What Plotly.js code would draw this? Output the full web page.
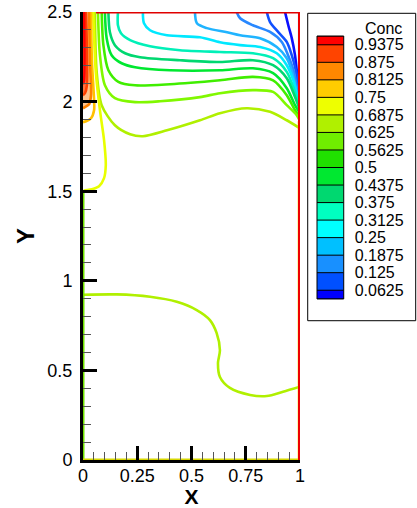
<!DOCTYPE html>
<html><head><meta charset="utf-8">
<script src="https://cdn.plot.ly/plotly-3.0.1.min.js"></script>
<style>html,body{margin:0;padding:0;background:#fff}#chart{width:417px;height:508px}</style>
</head><body><div id="chart"></div>
<script>
// ---- legend data ----
const levels = [0.0625,0.125,0.1875,0.25,0.3125,0.375,0.4375,0.5,0.5625,0.625,0.6875,0.75,0.8125,0.875,0.9375];
const levelLabels = ["0.0625","0.125","0.1875","0.25","0.3125","0.375","0.4375","0.5","0.5625","0.625","0.6875","0.75","0.8125","0.875","0.9375"];
const bandColors = ['#0000ff','#0050ff','#1890ff','#00c0ff','#00ffff','#00ffc0','#00d870','#00e830','#20e000','#70ee00','#b0f000','#eeff00','#ffcc00','#ff8800','#ff4400','#ff0000'];

// ---- contour lines (x, y) ----
const b1X = [0.931,0.946,0.962,0.977,0.986,0.994,1.0];
const b1Y = [2.5,2.426,2.354,2.259,2.164,2.052,1.991];
const b2X = [0.847,0.862,0.899,0.939,0.962,0.982,0.992,1.0];
const b2Y = [2.5,2.444,2.389,2.333,2.259,2.166,2.064,1.985];
const b3X = [0.708,0.724,0.783,0.862,0.916,0.945,0.972,0.989,1.0];
const b3Y = [2.5,2.465,2.426,2.389,2.333,2.259,2.166,2.052,1.980];
const b4X = [0.516,0.525,0.571,0.664,0.724,0.816,0.893,0.939,0.968,0.986,1.0];
const b4Y = [2.5,2.437,2.410,2.387,2.370,2.354,2.305,2.242,2.147,2.036,1.974];
const cyX = [0.276,0.281,0.309,0.387,0.539,0.631,0.724,0.816,0.893,0.939,0.972,0.989,1.0];
const cyY = [2.5,2.437,2.398,2.370,2.359,2.331,2.315,2.305,2.270,2.203,2.110,2.019,1.969];
const aqX = [0.161,0.161,0.175,0.217,0.309,0.447,0.631,0.783,0.876,0.939,0.977,1.0];
const aqY = [2.5,2.426,2.381,2.343,2.309,2.287,2.277,2.270,2.242,2.166,2.054,1.963];
const tgX = [0.117,0.124,0.147,0.194,0.263,0.447,0.631,0.783,0.876,0.939,0.977,1.0];
const tgY = [2.5,2.387,2.315,2.270,2.248,2.231,2.221,2.231,2.203,2.130,2.026,1.952];
const gX = [0.101,0.109,0.132,0.178,0.240,0.401,0.631,0.783,0.876,0.939,0.977,1.0];
const gY = [2.5,2.354,2.259,2.214,2.192,2.175,2.175,2.186,2.159,2.075,1.980,1.935];
const g2X = [0.086,0.094,0.117,0.163,0.240,0.401,0.631,0.783,0.876,0.939,0.977,1.0];
const g2Y = [2.5,2.315,2.175,2.110,2.091,2.097,2.119,2.138,2.119,2.036,1.952,1.913];
const ygX = [0.069,0.078,0.101,0.147,0.240,0.355,0.539,0.631,0.783,0.876,0.939,0.985,1.0];
const ygY = [2.5,2.259,2.091,2.019,1.997,2.002,2.025,2.047,2.064,2.054,1.980,1.924,1.891];
const lygX = [0.055,0.063,0.086,0.147,0.217,0.276,0.387,0.539,0.631,0.754,0.862,0.939,1.0];
const lygY = [2.5,2.166,1.980,1.868,1.818,1.807,1.840,1.896,1.935,1.963,1.943,1.896,1.851];
const yeX = [0.047,0.059,0.078,0.097,0.105,0.097,0.074,0.041,0.005,0];
const yeY = [2.5,2.164,1.952,1.785,1.645,1.573,1.528,1.511,1.503,1.500];
const goX = [0.037,0.041,0.051,0.051,0.037,0.014,0];
const goY = [2.5,2.231,2.008,1.952,1.907,1.890,1.885];
const orX = [0.028,0.032,0.037,0.028,0.009,0];
const orY = [2.5,2.231,2.036,1.985,1.969,1.963];
const orrX = [0.014,0.018,0.018,0.009,0];
const orrY = [2.5,2.287,2.091,2.047,2.036];
const rdX = [0.005,0.007,0.005,0];
const rdY = [2.5,2.231,2.119,2.097];
const lowX = [0,0.155,0.309,0.432,0.524,0.585,0.616,0.631,0.622,0.631,0.677,0.770,0.847,0.922,1.0];
const lowY = [0.922,0.924,0.911,0.883,0.837,0.781,0.708,0.613,0.541,0.463,0.402,0.363,0.357,0.381,0.409];

// boundary lines
const rightEdgeX = [1,1], rightEdgeY = [0,2.5];
const rightInnerX = [0.994,0.994], rightInnerY = [0,1.89];
const rightTopX = [0.995,0.995], rightTopY = [1.99,2.5];
const topEdgeX = [0.06,1], topEdgeY = [2.5,2.5];
const leftEdgeX = [0,0], leftEdgeY = [0,1.5];
const bottomEdgeX = [0,1], bottomEdgeY = [0,0];

const curves = [
  [b1X,b1Y,'#0a10ff'],[b2X,b2Y,'#1050ff'],[b3X,b3Y,'#2888ff'],[b4X,b4Y,'#20b4ff'],
  [cyX,cyY,'#00e8ff'],[aqX,aqY,'#00f0b8'],[tgX,tgY,'#00d870'],[gX,gY,'#00e830'],
  [g2X,g2Y,'#40ee00'],[ygX,ygY,'#80f800'],[lygX,lygY,'#b0f000'],[yeX,yeY,'#e8ff00'],
  [goX,goY,'#ffc000'],[orX,orY,'#ff8000'],[orrX,orrY,'#ff4000'],[rdX,rdY,'#ff0000'],
  [lowX,lowY,'#b0f000']
];
const edges = [
  [leftEdgeX,leftEdgeY,'#70e000',3],[bottomEdgeX,bottomEdgeY,'#d8d800',3],
  [rightInnerX,rightInnerY,'#e8e800',2],[rightTopX,rightTopY,'#20c8e8',2],
  [topEdgeX,topEdgeY,'#e00000',3],[rightEdgeX,rightEdgeY,'#ee0000',4]
];

const FONT = 'Liberation Sans, Arial, sans-serif';
const traces = [];
// shaded high-concentration strip at the inlet (left-top)
traces.push({type:'scatter',mode:'lines',x:orX,y:orY,fill:'tozerox',fillcolor:'rgba(255,120,0,0.45)',
  line:{width:0,shape:'spline'},hoverinfo:'skip',showlegend:false});
traces.push({type:'scatter',mode:'lines',x:orrX,y:orrY,fill:'tozerox',fillcolor:'rgba(255,50,0,0.55)',
  line:{width:0,shape:'spline'},hoverinfo:'skip',showlegend:false});
curves.forEach(c => traces.push({type:'scatter',mode:'lines',x:c[0],y:c[1],
  line:{color:c[2],width:2.6,shape:'spline',smoothing:0.8},hoverinfo:'skip',showlegend:false}));
edges.forEach(c => traces.push({type:'scatter',mode:'lines',x:c[0],y:c[1],
  line:{color:c[2],width:c[3]},hoverinfo:'skip',showlegend:false}));

// legend bar as heatmap on its own axes
const lo = levels[0] - (levels[1]-levels[0])/2;
const hi = levels[levels.length-1] + (levels[1]-levels[0])/2;
const bounds = [lo].concat(levels).concat([hi]);
const zcol = bandColors.map((c,i)=>[i]);
const cs = bandColors.map((c,i)=>[i/(bandColors.length-1), c]);
traces.push({type:'heatmap',x:[0,1],y:bounds,z:zcol,colorscale:cs,zmin:0,zmax:bandColors.length-1,
  showscale:false,xaxis:'x2',yaxis:'y2',hoverinfo:'skip'});
const sepX=[], sepY=[];
bounds.forEach(b=>{sepX.push(0,1,null); sepY.push(b,b,null);});
traces.push({type:'scatter',mode:'lines',x:sepX,y:sepY,xaxis:'x2',yaxis:'y2',
  line:{color:'#000',width:1},hoverinfo:'skip',showlegend:false});

const layout = {
  width:417,height:508,
  margin:{l:83,r:0,t:12,b:48},
  paper_bgcolor:'#fff',plot_bgcolor:'#fff',
  showlegend:false,
  font:{family:FONT,color:'#000'},
  xaxis:{domain:[0,0.6497],range:[0,1],showgrid:false,zeroline:false,
    showline:true,linewidth:3,linecolor:'#000',ticks:'inside',ticklen:14,tickwidth:3,tickcolor:'#000',
    tickvals:[0,0.25,0.5,0.75,1],ticktext:['0','0.25','0.5','0.75','1'],
    tickfont:{size:18,family:FONT},ticklabelstandoff:-3,
    minor:{ticks:'inside',ticklen:8,tickwidth:1,tickcolor:'#555',dtick:0.05,tick0:0},
    title:{text:'X',font:{size:21,family:FONT,weight:'bold'},standoff:-4},automargin:false},
  yaxis:{domain:[0,1],range:[0,2.5],showgrid:false,zeroline:false,
    showline:true,linewidth:3,linecolor:'#000',ticks:'inside',ticklen:14,tickwidth:3,tickcolor:'#000',
    tickvals:[0,0.5,1,1.5,2,2.5],ticktext:['0','0.5','1','1.5','2','2.5'],
    tickfont:{size:18,family:FONT},ticklabelstandoff:4,
    minor:{ticks:'inside',ticklen:8,tickwidth:1,tickcolor:'#555',dtick:0.1,tick0:0},
    title:{text:'Y',font:{size:24,family:FONT,weight:'bold'},standoff:6},automargin:false},
  xaxis2:{domain:[0.7006,0.7806],anchor:'y2',range:[0,1],showgrid:false,zeroline:false,
    showticklabels:false,ticks:'',showline:false,fixedrange:true},
  yaxis2:{domain:[0.3594,0.9464],anchor:'x2',side:'right',range:[lo,hi],showgrid:false,zeroline:false,
    tickvals:levels,ticktext:levelLabels,ticks:'',showline:false,
    tickfont:{size:16,family:FONT},ticklabelstandoff:10},
  shapes:[
    {type:'rect',xref:'paper',yref:'paper',x0:0.6728,x1:0.9961,y0:0.3109,y1:0.9971,
      line:{color:'#000',width:1},fillcolor:'rgba(0,0,0,0)',layer:'below'},
    {type:'rect',xref:'x2 domain',yref:'y2 domain',x0:0,x1:1,y0:0,y1:1,
      line:{color:'#000',width:1},fillcolor:'rgba(0,0,0,0)'}
  ],
  annotations:[
    {text:'Conc',xref:'paper',yref:'paper',x:0.901,y:0.964,showarrow:false,
      font:{size:16,family:FONT},xanchor:'center',yanchor:'middle'}
  ]
};
Plotly.newPlot('chart',traces,layout,{displayModeBar:false,staticPlot:true});
</script></body></html>
